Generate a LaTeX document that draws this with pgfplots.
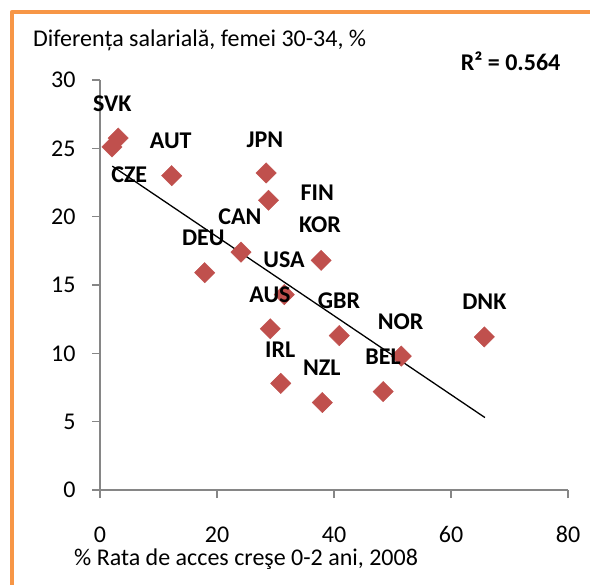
\documentclass[border=0pt]{standalone}
\usepackage{pgfplots}
\pgfplotsset{compat=1.18}
\usepackage{fontspec}
\setmainfont{Carlito}
\definecolor{bord}{HTML}{F79646}
\definecolor{mk}{HTML}{C0504D}
\definecolor{axc}{HTML}{868686}
\newcommand{\fs}{\fontsize{24bp}{28bp}\selectfont}
\begin{document}
\begin{tikzpicture}
\path[use as bounding box] (0bp,0bp) rectangle (590bp,585bp);
\draw[bord, line width=4.5bp, line join=round] (12bp,0bp) -- (12bp,573bp) -- (590bp,573bp);
\node[anchor=base west, inner sep=0pt, font=\fs] at (33bp,538.3bp) {Diferența salarială, femei 30-34, \%};
\node[anchor=base west, inner sep=0pt, font=\fs\bfseries] at (460.7bp,514.3bp) {R² = 0.564};
\node[anchor=base west, inner sep=0pt, font=\fs] at (74bp,20bp) {\% Rata de acces creşe 0-2 ani, 2008};
\begin{axis}[at={(100bp,95bp)}, anchor=south west, scale only axis,
  width=468bp, height=410bp,
  xmin=0, xmax=80, ymin=0, ymax=30,
  xtick={0,20,...,80}, ytick={0,5,...,30},
  axis x line=bottom, axis y line=left,
  axis line style={-, axc, line width=1.6bp},
  tick style={axc, line width=1.6bp}, tick align=outside, major tick length=8bp,
  ticklabel style={font=\fs, /pgf/number format/assume math mode=true},
  xticklabel style={yshift=-25bp},
  yticklabel style={xshift=-13bp},
  clip=false]
\addplot[only marks, mark=square*, mark size=7.2bp, mark options={rotate=45, fill=mk, draw=mk}] coordinates {
 (3.1,25.75) (2.05,25.1) (12.25,23.0) (28.4,23.2) (28.8,21.2) (24.1,17.4)
 (17.9,15.9) (37.8,16.8) (31.5,14.3) (29.1,11.8) (40.9,11.3) (51.5,9.8)
 (65.7,11.2) (30.9,7.8) (38.0,6.4) (48.4,7.2)};
\addplot[black, line width=1.3bp] coordinates {(2.1,23.7) (65.8,5.3)};
\coordinate (SVK) at (axis cs:2.1,28.24);
\coordinate (AUT) at (axis cs:12.09,25.56);
\coordinate (JPN) at (axis cs:28.2,25.66);
\coordinate (CZE) at (axis cs:5.0,23.05);
\coordinate (CAN) at (axis cs:23.93,20.0);
\coordinate (DEU) at (axis cs:17.66,18.46);
\coordinate (FIN) at (axis cs:37.15,21.75);
\coordinate (KOR) at (axis cs:37.6,19.39);
\coordinate (USA) at (axis cs:31.45,16.83);
\coordinate (AUS) at (axis cs:29.06,14.32);
\coordinate (GBR) at (axis cs:40.85,13.85);
\coordinate (NOR) at (axis cs:51.4,12.31);
\coordinate (DNK) at (axis cs:65.7,13.78);
\coordinate (IRL) at (axis cs:30.8,10.3);
\coordinate (BEL) at (axis cs:48.4,9.75);
\coordinate (NZL) at (axis cs:37.9,8.95);
\end{axis}
\begin{scope}[every node/.style={font=\fs\bfseries, inner sep=0pt}]
\foreach \c in {SVK,AUT,JPN,CZE,CAN,DEU,FIN,KOR,USA,AUS,GBR,NOR,DNK,IRL,BEL,NZL}
  \node at (\c) {\c};
\end{scope}
\end{tikzpicture}
\end{document}
